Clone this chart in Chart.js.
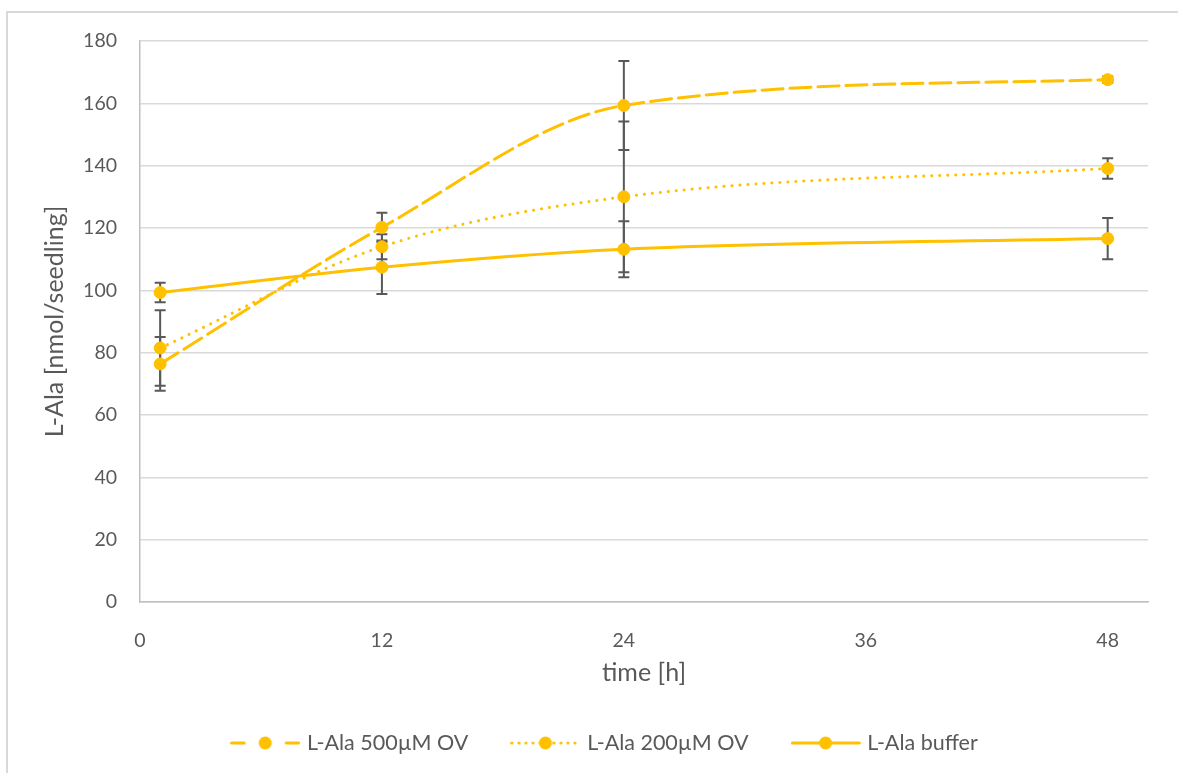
<!DOCTYPE html>
<html>
<head>
<meta charset="utf-8">
<script src="https://cdn.jsdelivr.net/npm/chart.js@4"></script>
<style>
  html, body { margin: 0; padding: 0; background: #fff; overflow: hidden; }
  #frame { position: absolute; left: 6px; top: 11px; width: 1300px; height: 900px; border: 2px solid #d9d9d9; }
  #wrap { position: absolute; left: 0; top: 0; width: 1178px; height: 773px; }
</style>
</head>
<body>
<div id="frame"></div>
<div id="wrap"><canvas id="chart"></canvas></div>
<script>
// time points (h) and measured values with their error (+/-)
const times = [1, 12, 24, 48];
const ala500 = [76.4, 120.2, 159.3, 167.6];
const ala500Err = [8.6, 4.7, 14.3, 1.0];
const ala200 = [81.5, 114.0, 130.0, 139.1];
const ala200Err = [12.1, 4.0, 24.2, 3.3];
const alaBuffer = [99.3, 107.4, 113.2, 116.6];
const alaBufferErr = [3.1, 8.6, 9.0, 6.6];

const labels = ['L-Ala 500µM OV', 'L-Ala 200µM OV', 'L-Ala buffer'];
const xTicks = [0, 12, 24, 36, 48];
const yTicks = [0, 20, 40, 60, 80, 100, 120, 140, 160, 180];

const yellow = '#FFC000';
const textGrey = '#595959';

Chart.defaults.font.family = 'Lato, "Open Sans", sans-serif';
Chart.defaults.color = textGrey;

function points(values) {
    return times.map((t, i) => ({x: t, y: values[i]}));
}

// little line + marker pictures used as legend symbols
function makeSample(kind) {
    const c = document.createElement('canvas');
    c.width = 70;
    c.height = 16;
    const g = c.getContext('2d');
    g.strokeStyle = yellow;
    g.lineWidth = 3;
    g.lineCap = 'round';
    g.beginPath();
    if (kind === 'dash') {
        g.moveTo(1.5, 8); g.lineTo(14, 8);
        g.moveTo(56, 8); g.lineTo(68.5, 8);
    } else if (kind === 'dot') {
        g.setLineDash([0.1, 6.9]);
        g.moveTo(1.5, 8); g.lineTo(68.5, 8);
    } else {
        g.moveTo(1.5, 8); g.lineTo(68.5, 8);
    }
    g.stroke();
    g.setLineDash([]);
    g.fillStyle = yellow;
    g.beginPath();
    g.arc(35, 8, 6.5, 0, Math.PI * 2);
    g.fill();
    return c;
}
const samples = [makeSample('dash'), makeSample('dot'), makeSample('solid')];

const errorBars = {
    id: 'errorBars',
    beforeDatasetsDraw(chart) {
        const ctx = chart.ctx;
        const x = chart.scales.x;
        const y = chart.scales.y;
        ctx.save();
        ctx.strokeStyle = textGrey;
        ctx.lineWidth = 2;
        chart.data.datasets.forEach(ds => {
            ds.data.forEach((p, i) => {
                const px = x.getPixelForValue(p.x);
                const top = y.getPixelForValue(p.y + ds.errors[i]);
                const bot = y.getPixelForValue(p.y - ds.errors[i]);
                ctx.beginPath();
                ctx.moveTo(px, top); ctx.lineTo(px, bot);
                ctx.moveTo(px - 5.5, top); ctx.lineTo(px + 5.5, top);
                ctx.moveTo(px - 5.5, bot); ctx.lineTo(px + 5.5, bot);
                ctx.stroke();
            });
        });
        ctx.restore();
    }
};

function series(label, values, errors, dash) {
    return {
        label: label,
        data: points(values),
        errors: errors,
        borderColor: yellow,
        backgroundColor: yellow,
        borderWidth: 3,
        borderDash: dash,
        borderCapStyle: 'round',
        cubicInterpolationMode: 'monotone',
        pointRadius: 6,
        pointBorderWidth: 1,
        pointBorderColor: yellow,
        pointBackgroundColor: yellow,
        fill: false
    };
}

new Chart(document.getElementById('chart'), {
    type: 'line',
    data: {
        datasets: [
            series(labels[0], ala500, ala500Err, [21, 7]),
            series(labels[1], ala200, ala200Err, [0.1, 7.9]),
            series(labels[2], alaBuffer, alaBufferErr, [])
        ]
    },
    options: {
        responsive: true,
        maintainAspectRatio: false,
        animation: false,
        devicePixelRatio: 1,
        layout: {padding: {left: 64, right: 30, top: 41, bottom: 9.25}},
        plugins: {
            tooltip: {enabled: false},
            legend: {
                position: 'bottom',
                labels: {
                    usePointStyle: true,
                    pointStyleWidth: 62,
                    padding: 46,
                    color: textGrey,
                    font: {size: 21.5},
                    generateLabels(chart) {
                        const items = Chart.defaults.plugins.legend.labels.generateLabels(chart);
                        items.forEach((it, i) => { it.pointStyle = samples[i]; });
                        return items;
                    }
                }
            }
        },
        scales: {
            x: {
                type: 'linear',
                min: 0,
                max: 50,
                afterBuildTicks: s => { s.ticks = xTicks.map(v => ({value: v})); },
                afterFit: s => { s.height = 84.25; },
                grid: {display: false},
                border: {color: '#bfbfbf', width: 1.5},
                ticks: {padding: 19, color: textGrey, font: {size: 19.5}},
                title: {display: true, text: 'time [h]', color: textGrey, font: {size: 25}, padding: {top: 0, bottom: -1.5}}
            },
            y: {
                min: 0,
                max: 180,
                afterBuildTicks: s => { s.ticks = yTicks.map(v => ({value: v})); },
                afterFit: s => { s.width = 76; },
                grid: {color: '#d9d9d9', lineWidth: 1.5, drawTicks: false},
                border: {color: '#bfbfbf', width: 1.5},
                ticks: {padding: 23, color: textGrey, font: {size: 19.5}},
                title: {display: true, text: 'L-Ala [nmol/seedling]', color: textGrey, font: {size: 25}, padding: {top: -24, bottom: 0}}
            }
        }
    },
    plugins: [errorBars]
});
</script>
</body>
</html>
